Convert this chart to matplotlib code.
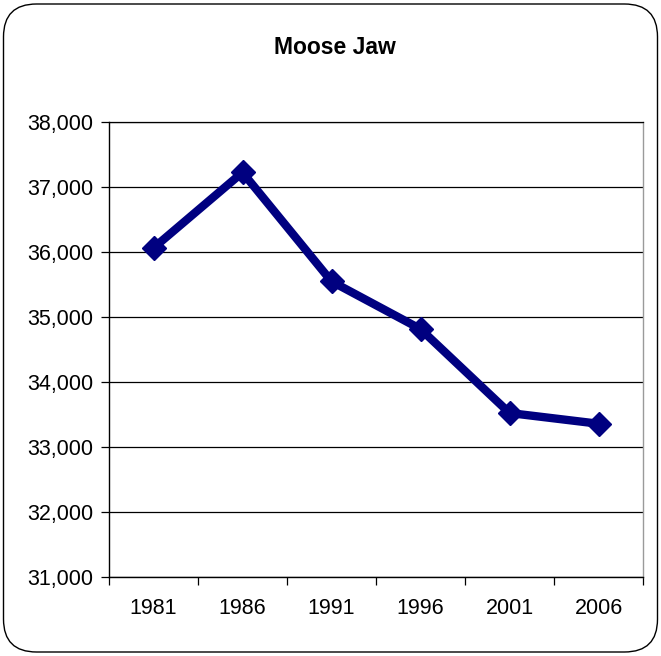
import matplotlib
matplotlib.use("Agg")
import matplotlib.pyplot as plt
from matplotlib.patches import FancyBboxPatch
from matplotlib.ticker import FuncFormatter, FixedLocator, NullFormatter

years = ["1981", "1986", "1991", "1996", "2001", "2006"]
population = [36062, 37225, 35548, 34815, 33523, 33358]
title = "Moose Jaw"

plt.rcParams['font.family'] = ['Liberation Sans', 'DejaVu Sans']

fig = plt.figure(figsize=(6.61, 6.56), dpi=100)
fig.patch.set_facecolor('white')

ax = fig.add_axes([109 / 661, (656 - 577) / 656, (643 - 109) / 661, (577 - 122) / 656])
ax.set_facecolor('none')

x = list(range(len(years)))
ax.plot(x, population, color='#000080', linewidth=6.0, marker='D',
        markersize=12, markerfacecolor='#000080', markeredgecolor='#000080',
        solid_joinstyle='miter', zorder=3, clip_on=False)

ax.set_xlim(-0.5, len(years) - 0.5)
ax.set_ylim(31000, 38000)
ax.set_yticks(range(31000, 38001, 1000))
ax.yaxis.set_major_formatter(FuncFormatter(lambda v, p: f"{int(v):,}"))
ax.yaxis.grid(True, color='black', linewidth=0.9)
ax.set_axisbelow(True)

# x ticks at category boundaries, labels at centers
ax.xaxis.set_major_locator(FixedLocator([i - 0.5 for i in range(len(years) + 1)]))
ax.xaxis.set_major_formatter(NullFormatter())
ax.xaxis.set_minor_locator(FixedLocator(x))
ax.set_xticklabels(years, minor=True)
ax.tick_params(axis='x', which='minor', length=0, labelsize=15.5, pad=15)
ax.tick_params(axis='x', which='major', length=6, width=0.9, direction='out')
ax.tick_params(axis='y', length=6, width=0.9, direction='out', labelsize=15.5, pad=5)

for s in ['left', 'bottom']:
    ax.spines[s].set_color('black')
    ax.spines[s].set_linewidth(1.0)
ax.spines['top'].set_color('black')
ax.spines['top'].set_linewidth(0.9)
ax.spines['right'].set_color('#9a9a9a')
ax.spines['right'].set_linewidth(1.0)

border = FancyBboxPatch((3.5 / 661, 4 / 656), 654 / 661, 648 / 656,
                        boxstyle="round,pad=0,rounding_size=0.05",
                        transform=fig.transFigure, facecolor='none',
                        edgecolor='black', linewidth=1.0, zorder=5)
fig.patches.append(border)

fig.text(335 / 661, 1 - 48 / 656, title, ha='center', va='center',
         fontsize=16.5, fontweight='bold')

fig.savefig("out.png", dpi=100)
